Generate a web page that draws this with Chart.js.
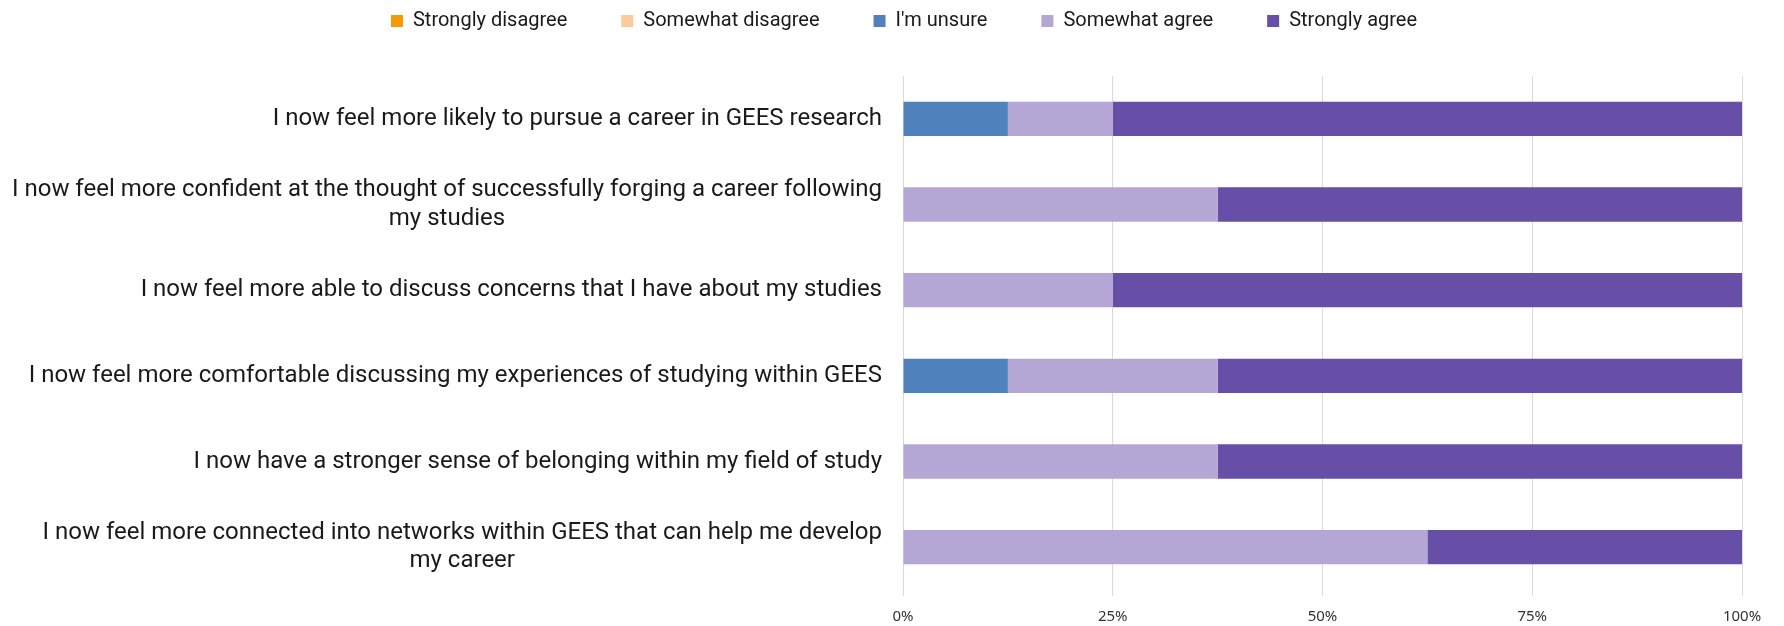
<!DOCTYPE html>
<html>
<head>
<meta charset="utf-8">
<script src="https://cdn.jsdelivr.net/npm/chart.js@4"></script>
<style>
  html, body { margin: 0; padding: 0; background: #fff; }
  #wrap { width: 1784px; height: 626px; }
</style>
</head>
<body>
<div id="wrap"><canvas id="survey"></canvas></div>
<script>
var statements = [
  ['I now feel more likely to pursue a career in GEES research'],
  ['I now feel more confident at the thought of successfully forging a career following', 'my studies'],
  ['I now feel more able to discuss concerns that I have about my studies'],
  ['I now feel more comfortable discussing my experiences of studying within GEES'],
  ['I now have a stronger sense of belonging within my field of study'],
  ['I now feel more connected into networks within GEES that can help me develop', 'my career']
];
var stronglyDisagree = [0, 0, 0, 0, 0, 0];
var somewhatDisagree = [0, 0, 0, 0, 0, 0];
var unsure = [12.5, 0, 0, 12.5, 0, 0];
var somewhatAgree = [12.5, 37.5, 25, 25, 37.5, 62.5];
var stronglyAgree = [75, 62.5, 75, 62.5, 62.5, 37.5];
var xTicks = [0, 25, 50, 75, 100];

var labelFont = '24px Roboto';

// draws the category labels: block right-aligned, lines centred in block
var statementLabels = {
  id: 'statementLabels',
  afterDraw: function(chart) {
    var ctx = chart.ctx;
    var yScale = chart.scales.y;
    var right = chart.chartArea.left - 21;
    ctx.save();
    ctx.font = labelFont;
    ctx.fillStyle = '#1a1a1a';
    ctx.textAlign = 'center';
    ctx.textBaseline = 'middle';
    statements.forEach(function(lines, i) {
      var y = yScale.getPixelForTick(i);
      var w = 0;
      lines.forEach(function(l) { w = Math.max(w, ctx.measureText(l).width); });
      var cx = right - w / 2;
      lines.forEach(function(l, j) {
        ctx.fillText(l, cx, y + (j - (lines.length - 1) / 2) * 28.5);
      });
    });
    ctx.restore();
  }
};

// legend padding is wide for the item spacing; fix its height by hand
// and nudge it right (chart.js counts the trailing padding in the row)
var legendHeight = {
  id: 'legendHeight',
  beforeInit: function(chart) {
    var fit = chart.legend.fit;
    chart.legend.fit = function() {
      fit.call(this);
      this.height = 119;
    };
  },
  afterLayout: function(chart) {
    chart.legend.left += 33;
    chart.legend.right += 33;
  }
};

var survey = document.getElementById('survey').getContext('2d');
var survey_chart = new Chart(survey, {
  type: 'bar',
  data: {
    labels: statements,
    datasets: [
      { label: 'Strongly disagree', data: stronglyDisagree, backgroundColor: '#F59A00' },
      { label: 'Somewhat disagree', data: somewhatDisagree, backgroundColor: '#FCCB9C' },
      { label: "I'm unsure", data: unsure, backgroundColor: '#4F81BD' },
      { label: 'Somewhat agree', data: somewhatAgree, backgroundColor: '#B4A7D6' },
      { label: 'Strongly agree', data: stronglyAgree, backgroundColor: '#674EA7' }
    ]
  },
  options: {
    indexAxis: 'y',
    responsive: true,
    maintainAspectRatio: false,
    animation: false,
    layout: { padding: { top: -43, right: 42, bottom: -12, left: 0 } },
    datasets: { bar: { categoryPercentage: 1, barPercentage: 0.4 } },
    plugins: {
      legend: {
        position: 'top',
        labels: {
          font: { family: 'Roboto', size: 20 },
          color: '#1a1a1a',
          boxWidth: 12,
          boxHeight: 12,
          padding: 54
        }
      },
      tooltip: { enabled: false }
    },
    scales: {
      x: {
        stacked: true,
        min: 0,
        max: 100,
        afterBuildTicks: function(s) { s.ticks = xTicks.map(function(v) { return { value: v }; }); },
        ticks: {
          callback: function(v) { return v + '%'; },
          font: { family: 'Noto Sans', size: 15 },
          color: '#333',
          padding: 12,
          maxRotation: 0
        },
        grid: { color: '#d9d9d9', tickLength: 6 },
        border: { display: false }
      },
      y: {
        stacked: true,
        afterFit: function(s) { s.width = 903; },
        ticks: { display: false },
        grid: { display: false },
        border: { display: false }
      }
    }
  },
  plugins: [statementLabels, legendHeight]
});
</script>
</body>
</html>
